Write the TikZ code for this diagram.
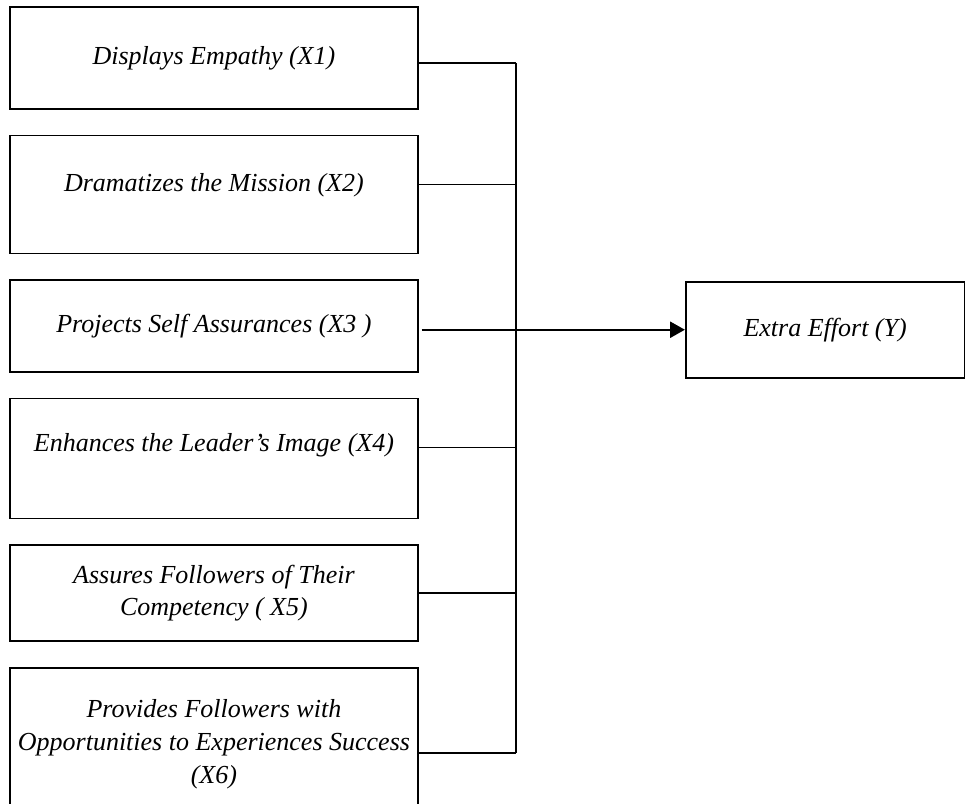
\documentclass[tikz,border=0pt]{standalone}
\usepackage{fontspec}
\setmainfont{Liberation Serif}
\usetikzlibrary{positioning, arrows.meta}

\begin{document}
\begin{tikzpicture}[node distance=18.5pt, line width=1.4pt,
    factor/.style={draw, minimum width=306pt, align=center, font=\fontsize{19.5}{24.5}\selectfont\itshape}]
        \useasboundingbox (0,0) rectangle (724.5pt,-602.25pt);
        \node[factor, anchor=north west, minimum height=76.5pt] (x1) at (6.75pt,-4.5pt) {Displays Empathy (X1)};
        \node[factor, below=of x1, minimum height=88.5pt, text depth=18pt] (x2) {Dramatizes the Mission (X2)};
        \node[factor, below=of x2, minimum height=69pt] (x3) {Projects Self Assurances (X3 )};
        \node[factor, below=of x3, minimum height=90pt, text depth=24pt] (x4) {Enhances the Leader’s Image (X4)};
        \node[factor, below=of x4, minimum height=72pt] (x5) {Assures Followers of Their\\Competency ( X5)};
        \node[factor, below=of x5, minimum height=115pt] (x6) {Provides Followers with\\Opportunities to Experiences Success\\(X6)};
        \node[factor, minimum width=209pt, minimum height=72pt, right=199.5pt of x3, yshift=-2.8pt] (y) {Extra Effort (Y)};
        \coordinate[right=72.75pt of x1.east] (bus);
        \foreach \i/\dy in {1/-3.75pt, 2/7.5pt, 4/8.25pt, 5/0pt, 6/-6.75pt} {
          \coordinate (c\i) at ([yshift=\dy]x\i.east);
          \draw (c\i) -- (c\i -| bus);
        }
        \draw (c1 -| bus) -- (c6 -| bus);
        \coordinate (c3) at ([xshift=2pt]x3.east |- y.west);
        \draw[-{Triangle[length=11pt, width=12pt]}] (c3) -- (y);
      \end{tikzpicture}
\end{document}
